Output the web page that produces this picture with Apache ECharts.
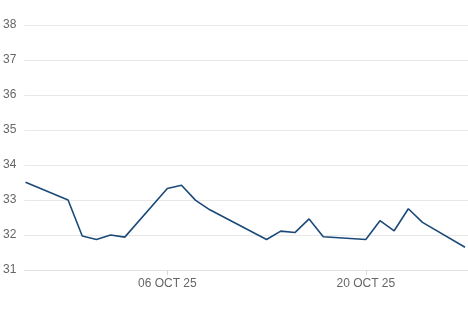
<!DOCTYPE html>
<html>
<head>
<meta charset="utf-8">
<script src="https://cdn.jsdelivr.net/npm/echarts@6/dist/echarts.min.js"></script>
<style>html,body{margin:0;padding:0;background:#fff;}#c{width:468px;height:312px;}</style>
</head>
<body>
<div id="c"></div>
<script>
const dates = ['2025-09-26','2025-09-29','2025-09-30','2025-10-01','2025-10-02','2025-10-03',
  '2025-10-06','2025-10-07','2025-10-08','2025-10-09','2025-10-13','2025-10-14','2025-10-15',
  '2025-10-16','2025-10-17','2025-10-20','2025-10-21','2025-10-22','2025-10-23','2025-10-24','2025-10-27'];
const values = [33.51,33.00,31.97,31.87,32.00,31.94,33.33,33.42,32.99,32.72,31.87,32.11,32.07,
  32.46,31.95,31.87,32.41,32.12,32.75,32.36,31.65];
const tickDates = ['2025-10-06','2025-10-20'];
const yTicks = [31,32,33,34,35,36,37,38];

const ts = d => { const p = d.split('-').map(Number); return Date.UTC(p[0], p[1]-1, p[2]); };
const MON = ['JAN','FEB','MAR','APR','MAY','JUN','JUL','AUG','SEP','OCT','NOV','DEC'];
const fmt = v => { const d = new Date(v); return String(d.getUTCDate()).padStart(2,'0') + ' ' + MON[d.getUTCMonth()] + ' ' + String(d.getUTCFullYear()).slice(2); };
const H = 3600*1000;

const chart = echarts.init(document.getElementById('c'));
chart.setOption({
  animation: false,
  grid: {left: 24, right: 0, top: 25, bottom: 42, containLabel: false},
  xAxis: {
    type: 'value',
    min: ts(dates[0]) - 2*H,
    max: ts(dates[dates.length-1]) + 5*H,
    axisLine: {show: true, lineStyle: {color: '#e3e3e3', width: 1}},
    axisTick: {show: true, customValues: tickDates.map(ts), length: 5, lineStyle: {color: '#d8d8d8'}},
    axisLabel: {customValues: tickDates.map(ts), formatter: fmt, color: '#666', fontSize: 12,
      fontFamily: 'Liberation Sans, Arial, sans-serif', margin: 8},
    splitLine: {show: false}
  },
  yAxis: {
    type: 'value',
    min: yTicks[0], max: yTicks[yTicks.length-1], interval: 1,
    axisLine: {show: false}, axisTick: {show: false},
    axisLabel: {color: '#666', fontSize: 12, fontFamily: 'Liberation Sans, Arial, sans-serif', margin: 8},
    splitLine: {lineStyle: {color: '#e8e8e8', width: 1}}
  },
  series: [{
    type: 'line',
    data: dates.map((d,i) => [ts(d), values[i]]),
    showSymbol: false,
    symbol: 'none',
    lineStyle: {color: '#1c4a78', width: 1.6},
    itemStyle: {color: '#1c4a78'}
  }]
});
</script>
</body>
</html>
